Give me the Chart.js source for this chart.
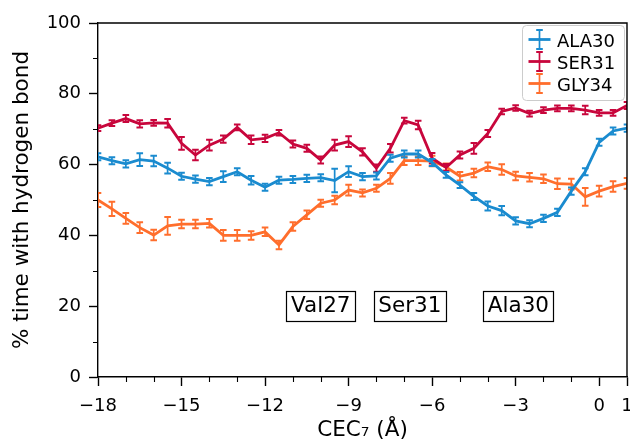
<!DOCTYPE html>
<html>
<head>
<meta charset="utf-8">
<script src="https://cdn.jsdelivr.net/npm/chart.js@4.4.1/dist/chart.umd.min.js"></script>
<style>
html, body { margin: 0; padding: 0; background: #fff; }
#wrap { width: 630px; height: 440px; }
</style>
</head>
<body>
<div id="wrap"><canvas id="hbondChart" width="630" height="440"></canvas></div>
<script>
// CEC7 positions (Angstrom), one point every 0.5
const cecPositions = [-18, -17.5, -17, -16.5, -16, -15.5, -15, -14.5, -14, -13.5, -13, -12.5, -12,
  -11.5, -11, -10.5, -10, -9.5, -9, -8.5, -8, -7.5, -7, -6.5, -6, -5.5, -5, -4.5, -4, -3.5,
  -3, -2.5, -2, -1.5, -1, -0.5, 0, 0.5, 1];

const ala30Values = [62.2, 61.1, 60.2, 61.4, 61.0, 59.0, 56.7, 55.9, 55.2, 56.6, 58.0, 55.6, 53.6,
  55.6, 55.8, 56.1, 56.3, 55.5, 58.0, 56.6, 56.8, 61.8, 63.0, 63.0, 60.6, 57.1, 54.2, 51.0, 48.3, 47.0,
  44.1, 43.3, 44.8, 46.5, 52.5, 58.0, 66.3, 69.5, 70.3];
const ala30Errors = [1.0, 1.0, 1.0, 1.8, 1.5, 1.5, 1.0, 1.0, 1.0, 1.5, 1.0, 1.2, 1.0,
  1.0, 1.0, 1.0, 1.0, 3.3, 1.5, 1.0, 1.0, 1.0, 1.0, 1.0, 1.0, 0.8, 0.8, 1.0, 1.3, 1.3,
  1.0, 1.0, 1.0, 1.0, 1.0, 1.0, 1.0, 1.0, 1.0];

const ser31Values = [70.3, 71.7, 73.0, 71.5, 71.8, 71.7, 66.0, 62.7, 65.5, 67.2, 70.5, 67.0, 67.4,
  69.0, 65.8, 64.6, 61.3, 65.5, 66.5, 63.6, 59.0, 64.6, 72.4, 71.2, 61.8, 59.2, 62.7, 64.6, 68.8, 75.0,
  76.0, 74.4, 75.4, 75.9, 75.9, 75.4, 74.6, 74.6, 76.7];
const ser31Errors = [0.8, 0.8, 1.0, 1.0, 0.8, 1.2, 1.8, 1.5, 1.5, 1.0, 0.8, 1.2, 1.0,
  0.8, 1.0, 1.0, 1.0, 1.5, 1.5, 1.0, 1.0, 1.2, 0.8, 1.2, 1.5, 1.0, 1.0, 1.5, 1.0, 0.8,
  0.8, 0.8, 0.8, 0.8, 0.8, 1.2, 0.8, 0.8, 1.0];

const gly34Values = [50.0, 47.5, 44.8, 42.2, 40.1, 42.7, 43.2, 43.2, 43.4, 40.0, 40.0, 40.0, 41.0,
  37.3, 42.5, 45.8, 49.1, 50.0, 52.8, 52.0, 53.3, 56.1, 61.1, 61.1, 61.0, 59.3, 56.7, 57.6, 59.4, 58.6,
  56.8, 56.4, 56.0, 54.6, 54.5, 50.9, 52.5, 53.8, 54.7];
const gly34Errors = [2.0, 2.0, 1.5, 1.5, 1.5, 2.5, 1.2, 1.2, 1.2, 1.5, 1.5, 1.2, 1.2,
  1.2, 1.2, 1.2, 1.0, 1.2, 1.5, 1.0, 1.0, 1.5, 1.2, 1.2, 1.5, 1.0, 1.2, 1.2, 1.2, 1.5,
  1.2, 1.2, 1.2, 1.5, 1.5, 2.5, 1.5, 1.5, 1.5];

const xTickValues = [-18, -15, -12, -9, -6, -3, 0, 1];
const yTickValues = [0, 20, 40, 60, 80, 100];

// residue boxes placed in data units
const residueLabels = ['Val27', 'Ser31', 'Ala30'];
const residueLabelX = [-10, -6.8, -2.9];
const residueLabelY = 20;

const FONT = 'DejaVu Sans';
const TITLE_SIZE = 21.5;
Chart.defaults.font.family = FONT;
Chart.defaults.font.size = 18;
Chart.defaults.color = '#000';

const toPoints = vals => cecPositions.map((x, i) => ({ x: x, y: vals[i] }));

const series = [
  { label: 'ALA30', values: ala30Values, errors: ala30Errors, color: '#1a8bcf' },
  { label: 'SER31', values: ser31Values, errors: ser31Errors, color: '#c8063c' },
  { label: 'GLY34', values: gly34Values, errors: gly34Errors, color: '#ff6e2c' }
];

// error bars, drawn right after each line so layering follows the series order
const errorBarPlugin = {
  id: 'errorBars',
  afterDatasetDraw(chart, args) {
    const ds = chart.data.datasets[args.index];
    const xs = chart.scales.x, ys = chart.scales.y;
    const ctx = chart.ctx;
    const area = chart.chartArea;
    ctx.save();
    ctx.beginPath();
    ctx.rect(area.left, area.top, area.right - area.left, area.bottom - area.top);
    ctx.clip();
    ctx.strokeStyle = ds.borderColor;
    ds.data.forEach((p, i) => {
      const e = ds.errors[i];
      const px = xs.getPixelForValue(p.x);
      const top = ys.getPixelForValue(p.y + e);
      const bot = ys.getPixelForValue(p.y - e);
      ctx.lineWidth = 1.7;
      ctx.beginPath();
      ctx.moveTo(px, top);
      ctx.lineTo(px, bot);
      ctx.stroke();
      ctx.lineWidth = 2;
      ctx.beginPath();
      ctx.moveTo(px - 3.3, top); ctx.lineTo(px + 3.3, top);
      ctx.moveTo(px - 3.3, bot); ctx.lineTo(px + 3.3, bot);
      ctx.stroke();
    });
    ctx.restore();
  }
};

const framePlugin = {
  id: 'frame',
  afterDraw(chart) {
    const ctx = chart.ctx;
    const area = chart.chartArea;
    const xs = chart.scales.x, ys = chart.scales.y;
    ctx.save();

    // top and right spines
    ctx.strokeStyle = '#000';
    ctx.lineWidth = 1.4;
    ctx.beginPath();
    ctx.moveTo(area.left, area.top);
    ctx.lineTo(area.right, area.top);
    ctx.lineTo(area.right, area.bottom);
    ctx.stroke();

    // minor ticks
    ctx.lineWidth = 1.1;
    ctx.beginPath();
    for (let v = -18; v <= 1; v++) {
      if (xTickValues.includes(v)) continue;
      const px = Math.round(xs.getPixelForValue(v)) + 0.5;
      ctx.moveTo(px, area.bottom);
      ctx.lineTo(px, area.bottom + 5);
    }
    for (let v = 10; v < 100; v += 20) {
      const py = Math.round(ys.getPixelForValue(v)) + 0.5;
      ctx.moveTo(area.left, py);
      ctx.lineTo(area.left - 5, py);
    }
    ctx.stroke();

    // residue text boxes
    ctx.font = TITLE_SIZE + 'px "' + FONT + '"';
    ctx.textAlign = 'center';
    ctx.textBaseline = 'alphabetic';
    residueLabels.forEach((txt, i) => {
      const cx = xs.getPixelForValue(residueLabelX[i]);
      const cy = ys.getPixelForValue(residueLabelY);
      const w = Math.round(ctx.measureText(txt).width + 9);
      const left = Math.round(cx - w / 2) + 0.5, top = Math.round(cy - 15) + 0.5;
      ctx.fillStyle = '#fff';
      ctx.fillRect(left, top, w, 30);
      ctx.strokeStyle = '#000';
      ctx.lineWidth = 1.2;
      ctx.strokeRect(left, top, w, 30);
      ctx.fillStyle = '#000';
      ctx.fillText(txt, cx, cy + 5.3);
    });

    // legend box, top right inside the axes
    ctx.font = '18px "' + FONT + '"';
    const bw = 102, bh = 75;
    const bx = area.right - bw - 3, by = area.top + 2;
    ctx.fillStyle = 'rgba(255,255,255,0.8)';
    ctx.strokeStyle = '#cccccc';
    ctx.lineWidth = 1;
    ctx.beginPath();
    ctx.roundRect(bx + 0.5, by + 0.5, bw, bh, 4);
    ctx.fill();
    ctx.stroke();
    ctx.textAlign = 'left';
    chart.data.datasets.forEach((ds, i) => {
      const cy = by + 14.5 + i * 22;
      const hx = bx + 6.5, hw = 22, mx = hx + hw / 2;
      ctx.strokeStyle = ds.borderColor;
      ctx.lineWidth = 2.8;
      ctx.beginPath();
      ctx.moveTo(hx, cy); ctx.lineTo(hx + hw, cy);
      ctx.stroke();
      ctx.lineWidth = 1.7;
      ctx.beginPath();
      ctx.moveTo(mx, cy - 9.5); ctx.lineTo(mx, cy + 9.5);
      ctx.stroke();
      ctx.lineWidth = 2;
      ctx.beginPath();
      ctx.moveTo(mx - 3.3, cy - 9.5); ctx.lineTo(mx + 3.3, cy - 9.5);
      ctx.moveTo(mx - 3.3, cy + 9.5); ctx.lineTo(mx + 3.3, cy + 9.5);
      ctx.stroke();
      ctx.fillStyle = '#000';
      ctx.fillText(ds.label, hx + hw + 6.5, cy + 7);
    });
    ctx.restore();
  }
};

const fmtTick = v => (v < 0 ? '\u2212' + Math.abs(v) : String(v));

const ctx = document.getElementById('hbondChart').getContext('2d');
new Chart(ctx, {
  type: 'line',
  data: {
    datasets: series.map(s => ({
      label: s.label,
      data: toPoints(s.values),
      errors: s.errors,
      borderColor: s.color,
      backgroundColor: s.color,
      borderWidth: 2.8,
      pointRadius: 0,
      tension: 0,
      fill: false
    }))
  },
  options: {
    responsive: false,
    animation: false,
    layout: { padding: { left: 0, right: 3, top: 23, bottom: 0 } },
    plugins: {
      legend: { display: false },
      tooltip: { enabled: false }
    },
    scales: {
      x: {
        type: 'linear',
        min: -18,
        max: 1,
        afterBuildTicks: s => { s.ticks = xTickValues.map(v => ({ value: v })); },
        afterFit: s => { s.height = 63; s.paddingLeft = 0; s.paddingRight = 0; },
        ticks: { callback: fmtTick, padding: 10, maxRotation: 0, autoSkip: false, color: '#000' },
        grid: { drawOnChartArea: false, tickLength: 9, tickWidth: 1.4, tickColor: '#000' },
        border: { color: '#000', width: 1.4 },
        title: {
          display: true, text: 'CEC\u2087 (\u00c5)', color: '#000',
          font: { size: TITLE_SIZE }, padding: { top: 0, bottom: -3 }
        }
      },
      y: {
        min: 0,
        max: 100,
        afterBuildTicks: s => { s.ticks = yTickValues.map(v => ({ value: v })); },
        afterFit: s => { s.width = 98; s.paddingTop = 0; s.paddingBottom = 0; },
        ticks: { padding: 8, color: '#000' },
        grid: { drawOnChartArea: false, tickLength: 9, tickWidth: 1.4, tickColor: '#000' },
        border: { color: '#000', width: 1.4 },
        title: {
          display: true, text: '% time with hydrogen bond', color: '#000',
          font: { size: TITLE_SIZE }, padding: { top: 9.5, bottom: 0 }
        }
      }
    }
  },
  plugins: [errorBarPlugin, framePlugin]
});
</script>
</body>
</html>
